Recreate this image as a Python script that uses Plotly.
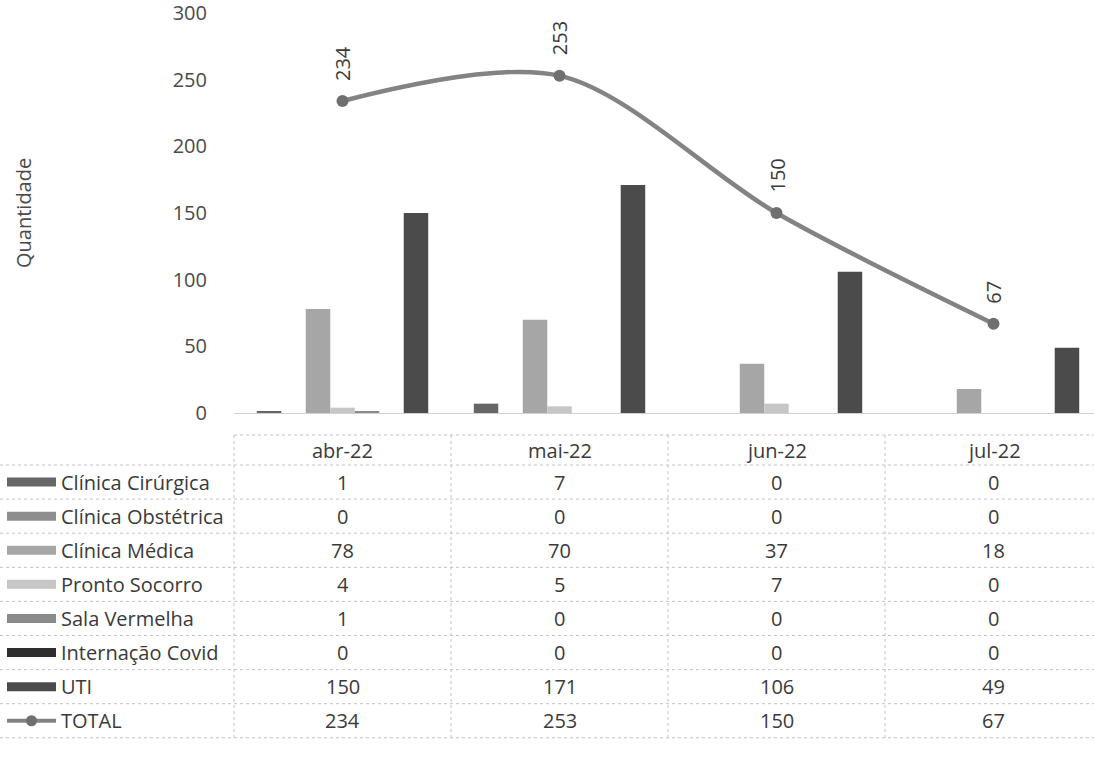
import plotly.graph_objects as go

months = ["abr-22", "mai-22", "jun-22", "jul-22"]
series_names = ["Clínica Cirúrgica", "Clínica Obstétrica", "Clínica Médica",
                "Pronto Socorro", "Sala Vermelha", "Internação Covid", "UTI"]
clinica_cirurgica = [1, 7, 0, 0]
clinica_obstetrica = [0, 0, 0, 0]
clinica_medica = [78, 70, 37, 18]
pronto_socorro = [4, 5, 7, 0]
sala_vermelha = [1, 0, 0, 0]
internacao_covid = [0, 0, 0, 0]
uti = [150, 171, 106, 49]
total = [234, 253, 150, 67]
y_ticks = [0, 50, 100, 150, 200, 250, 300]

series_values = [clinica_cirurgica, clinica_obstetrica, clinica_medica,
                 pronto_socorro, sala_vermelha, internacao_covid, uti]
colors = ["#666666", "#8e8e8e", "#a6a6a6", "#c6c6c6", "#8a8a8a", "#2e2e2e", "#4b4b4b"]
line_color = "#838383"
text_color = "#3a3a3a"
grid_color = "#c4c4c4"
FONT = "Open Sans"

W, H = 1094, 758
L, T, PW, PH = 234, 13, 860, 400
CAT_PX = 217.0


def px(x):
    return (x - L) / PW


def py(y):
    return (T + PH - y) / PH


fig = go.Figure()
for name, vals, col in zip(series_names, series_values, colors):
    fig.add_trace(go.Bar(x=months, y=vals, name=name, marker=dict(color=col, line=dict(width=0)),
                         showlegend=False, hoverinfo="y+name"))

fig.add_trace(go.Scatter(x=months, y=total, name="TOTAL", mode="lines+markers",
                         line=dict(color=line_color, width=4.5, shape="spline", smoothing=0.9),
                         marker=dict(color="#6f6f6f", size=12), showlegend=False))

annotations = []
shapes = []

# rotated data labels for TOTAL
for m, v in zip(months, total):
    annotations.append(dict(x=m, y=v, xref="x", yref="y", text=str(v), textangle=-90,
                            showarrow=False, xanchor="center", yanchor="bottom", yshift=18,
                            font=dict(family=FONT, size=20, color=text_color)))

# y-axis title
annotations.append(dict(x=px(23), y=py(213), xref="paper", yref="paper", text="Quantidade",
                        textangle=-90, showarrow=False, xanchor="center", yanchor="middle",
                        font=dict(family=FONT, size=20, color="#4a4a4a")))

# data table
header_top, header_bot = 435, 465
row_h = 34.1
n_rows = len(series_names) + 1
x_right_px = W + 20
line_style = dict(color=grid_color, width=1, dash="dot")

shapes.append(dict(type="line", xref="paper", yref="paper", x0=px(L), x1=px(x_right_px),
                   y0=py(header_top), y1=py(header_top), line=line_style))
for k in range(n_rows + 1):
    yy = header_bot + k * row_h
    shapes.append(dict(type="line", xref="paper", yref="paper", x0=px(0), x1=px(x_right_px),
                       y0=py(yy), y1=py(yy), line=line_style))
table_bottom = header_bot + n_rows * row_h
for i in range(len(months)):
    xx = L + i * CAT_PX
    shapes.append(dict(type="line", xref="paper", yref="paper", x0=px(xx), x1=px(xx),
                       y0=py(header_top), y1=py(table_bottom), line=line_style))

# header
for m in months:
    annotations.append(dict(x=m, y=py((header_top + header_bot) / 2), xref="x", yref="paper",
                            text=m, showarrow=False, xanchor="center", yanchor="middle",
                            font=dict(family=FONT, size=20, color=text_color)))

row_labels = series_names + ["TOTAL"]
row_values = series_values + [total]
row_colors = colors + [None]
for r, (lab, vals, col) in enumerate(zip(row_labels, row_values, row_colors)):
    yc = header_bot + (r + 0.5) * row_h
    annotations.append(dict(x=px(59), y=py(yc), xref="paper", yref="paper", text=lab,
                            showarrow=False, xanchor="left", yanchor="middle",
                            font=dict(family=FONT, size=20, color=text_color)))
    for m, v in zip(months, vals):
        annotations.append(dict(x=m, y=py(yc), xref="x", yref="paper", text=str(v),
                                showarrow=False, xanchor="center", yanchor="middle",
                                font=dict(family=FONT, size=20, color=text_color)))
    if col is not None:
        shapes.append(dict(type="rect", xref="paper", yref="paper", x0=px(7), x1=px(56),
                           y0=py(yc - 4.5), y1=py(yc + 4.5), fillcolor=col, line=dict(width=0)))
    else:
        shapes.append(dict(type="line", xref="paper", yref="paper", x0=px(7), x1=px(56),
                           y0=py(yc), y1=py(yc), line=dict(color=line_color, width=4)))
        shapes.append(dict(type="circle", xref="paper", yref="paper", x0=px(26), x1=px(37),
                           y0=py(yc - 5.5), y1=py(yc + 5.5), fillcolor="#6f6f6f",
                           line=dict(width=0)))

n_cat = PW / CAT_PX
fig.update_layout(
    width=W, height=H,
    margin=dict(l=L, r=0, t=T, b=H - T - PH, pad=0),
    paper_bgcolor="white", plot_bgcolor="white",
    barmode="group", bargap=0.21, bargroupgap=0,
    showlegend=False,
    annotations=annotations, shapes=shapes,
    font=dict(family=FONT, size=20, color=text_color),
    xaxis=dict(type="category", range=[-0.5, -0.5 + n_cat], showticklabels=False,
               showgrid=False, zeroline=False, showline=True, linecolor="#d0d0d0",
               linewidth=1, ticks=""),
    yaxis=dict(range=[0, 300.001], tickvals=y_ticks, showgrid=False, zeroline=False,
               showline=False, ticks="", ticklabelstandoff=26, ticklabeloverflow="allow",
               tickfont=dict(family=FONT, size=20, color="#4a4a4a")),
)

fig.write_html("out.html", config={"displayModeBar": False},
               post_script="document.body.style.margin='0';document.body.style.overflow='hidden';")
